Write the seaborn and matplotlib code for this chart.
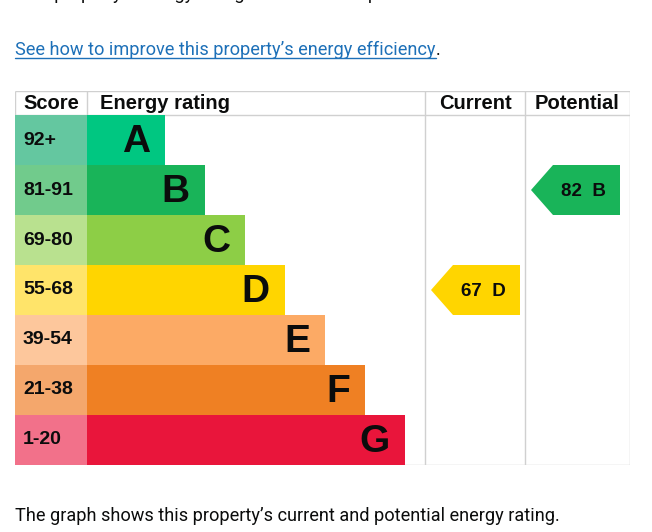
import numpy as np
import matplotlib
matplotlib.use("Agg")
import matplotlib.pyplot as plt
from matplotlib import font_manager
from matplotlib.patches import Polygon
from matplotlib.lines import Line2D
import seaborn as sns

# rating bands, top (best) to bottom
bands = ["A", "B", "C", "D", "E", "F", "G"]
score_ranges = ["92+", "81-91", "69-80", "55-68", "39-54", "21-38", "1-20"]
band_min_score = [92, 81, 69, 55, 39, 21, 1]
bar_lengths = [78, 118, 158, 198, 238, 278, 318]
bar_colors = ["#00c781", "#19b459", "#8dce46", "#ffd500", "#fcaa65", "#ef8023", "#e9153b"]
score_colors = ["#64c7a0", "#71cb8c", "#b9e18f", "#ffe46a", "#fdc79c", "#f4a76c", "#f2718a"]

current_score = 67
potential_score = 82

header_labels = ["Score", "Energy rating", "Current", "Potential"]
link_text = "See how to improve this property\u2019s energy efficiency"
intro_text = "This property\u2019s energy rating is D. It has the potential to be B."
footer_text = "The graph shows this property\u2019s current and potential energy rating."


def band_of(score):
    for i, lo in enumerate(band_min_score):
        if score >= lo:
            return i
    return len(bands) - 1


sns.set_theme(style="white")
plt.rcParams["font.family"] = ["Liberation Sans", "DejaVu Sans"]

installed = {f.name for f in font_manager.fontManager.ttflist}
prose_font = "Liberation Sans Narrow" if "Liberation Sans Narrow" in installed else "Roboto"
prose_size = 13.1

W, H = 652, 532
fig = plt.figure(figsize=(W / 100, H / 100), dpi=100)
fig.patch.set_facecolor("white")

# table axes: x in pixels from the score/rating divider, y in rows
ax = fig.add_axes([15 / W, (H - 465) / H, 615 / W, 374 / H])
sns.barplot(x=bar_lengths, y=bands, hue=bands, palette=bar_colors, orient="h",
            width=1.0, saturation=1, legend=False, ax=ax, zorder=2,
            edgecolor="none", linewidth=0)
ax.barh(np.arange(len(bands)), 72, left=-72, height=1.0, color=score_colors,
        edgecolor="none", linewidth=0, zorder=2)

ax.set_xlim(-72, 543)
ax.set_ylim(6.5, -0.98)
ax.axis("off")

grid = "#d0d0d0"
ax.hlines([-0.98, -0.5], -72, 543, color=grid, lw=1, zorder=1)
ax.hlines(6.5, -72, 543, color=grid, lw=1, zorder=1)
ax.vlines([-72, 0], -0.98, -0.5, color=grid, lw=1, zorder=1)
ax.vlines([338, 438, 543], -0.98, 6.5, color=grid, lw=1, zorder=1)

hy = -0.74
hk = dict(fontsize=14.5, weight="bold", va="center", color="#0b0c0c")
ax.text(-36, hy, header_labels[0], ha="center", **hk)
ax.text(13, hy, header_labels[1], ha="left", **hk)
ax.text(388, hy, header_labels[2], ha="center", **hk)
ax.text(490.5, hy, header_labels[3], ha="center", **hk)

for i, (b, r, L) in enumerate(zip(bands, score_ranges, bar_lengths)):
    ax.text(-64, i, r, ha="left", va="center", fontsize=14, weight="bold", color="#0b0c0c", zorder=3)
    ax.text(L - 15, i + 0.04, b, ha="right", va="center", fontsize=28, weight="bold", color="#0b0c0c", zorder=3)


def arrow(score, col_left):
    r = band_of(score)
    tip, body, right = col_left + 6, col_left + 28, col_left + 95
    pts = [(tip, r), (body, r - 0.5), (right, r - 0.5), (right, r + 0.5), (body, r + 0.5)]
    ax.add_patch(Polygon(pts, closed=True, facecolor=bar_colors[r], edgecolor="none", zorder=3))
    ax.text((body + right) / 2 - 3.5, r + 0.02, f"{score}  {bands[r]}", ha="center", va="center",
            fontsize=13.5, weight="bold", color="#0b0c0c", zorder=4)


arrow(current_score, 338)
arrow(potential_score, 438)

# prose around the chart
fig.text(15 / W, (H + 1) / H, intro_text, fontsize=prose_size, family=prose_font, color="#0b0c0c", va="baseline")
link = fig.text(15 / W, (H - 55) / H, link_text, fontsize=prose_size, family=prose_font,
                color="#1d70b8", va="baseline")
fig.text(15 / W, (H - 521) / H, footer_text, fontsize=prose_size, family=prose_font, color="#0b0c0c", va="baseline")

fig.canvas.draw()
bb = link.get_window_extent()
fig.add_artist(Line2D([bb.x0 / W, bb.x1 / W], [(H - 58) / H] * 2, color="#1d70b8", lw=1,
                      transform=fig.transFigure))
fig.text(bb.x1 / W, (H - 55) / H, ".", fontsize=prose_size, family=prose_font, color="#0b0c0c", va="baseline")

fig.savefig("out.png", dpi=100, facecolor="white")
